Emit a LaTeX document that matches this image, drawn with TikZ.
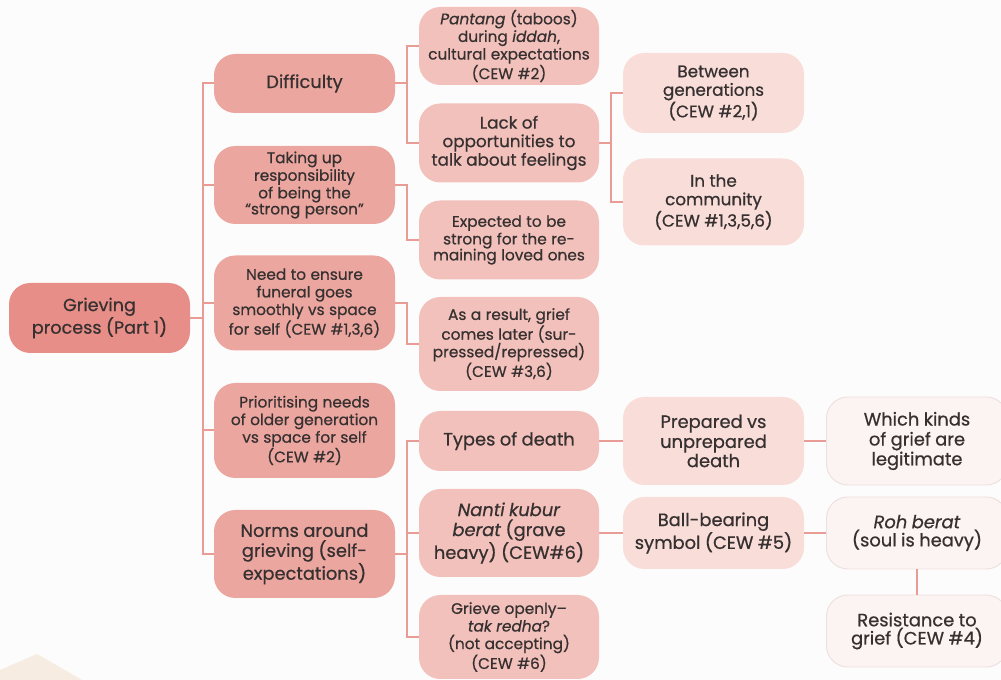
\documentclass[tikz,border=0pt]{standalone}
\usepackage{fontspec}
\setmainfont{Poppins}[FakeBold=0.6]
\usetikzlibrary{backgrounds}

\pgfdeclarelayer{canvas}
\pgfsetlayers{canvas,background,main}

\definecolor{bgc}{HTML}{FDFCFC}
\definecolor{sandc}{HTML}{F6ECE2}
\definecolor{rootc}{HTML}{E88E88}
\definecolor{lonec}{HTML}{EBA69F}
\definecolor{ltwoc}{HTML}{F2C1BB}
\definecolor{lthreec}{HTML}{F8DDD9}
\definecolor{lfourc}{HTML}{FCF4F2}
\definecolor{lfouredge}{HTML}{ECE0DE}
\definecolor{linkc}{HTML}{E99C96}
\definecolor{inkc}{HTML}{363030}

\newcommand{\roottxt}{\fontsize{13.2}{15}\selectfont}
\newcommand{\bigtxt}{\fontsize{13.4}{15}\selectfont}
\newcommand{\midtxt}{\fontsize{12.6}{13.9}\selectfont}
\newcommand{\smalltxt}{\fontsize{11.5}{13.2}\selectfont}

\tikzset{
  pill/.style n args={3}{rounded corners=16pt, inner sep=0pt, align=center,
    text=inkc, minimum width=#1*0.75pt, minimum height=#2*0.75pt,
    text width=(#1-12)*0.75pt, fill=#3},
  paleedge/.style={draw=lfouredge, line width=0.7pt},
  link/.style={draw=linkc, line width=1.5pt},
}

\begin{document}
\begin{tikzpicture}[x=0.75pt, y=-0.75pt]
  % canvas
  \useasboundingbox (0,0) rectangle (1001,680);
  \clip (0,0) rectangle (1001,680);
  \begin{pgfonlayer}{canvas}
    \fill[bgc] (0,0) rectangle (1001,680);
    \fill[sandc] (37,654) -- (0,670) -- (0,681) -- (84,681) -- cycle;
  \end{pgfonlayer}

  % root
  \node[pill={181}{70}{rootc}] (root) at (99.5,318) {\roottxt Grieving\\process (Part 1)};

  % first level
  \node[pill={181}{59}{lonec}] (dif) at (304.5,83.5) {\bigtxt Difficulty};
  \node[pill={181}{78}{lonec}] (take) at (304.5,185) {\smalltxt Taking up\\responsibility\\of being the\\“strong person”};
  \node[pill={181}{95}{lonec}] (fun) at (304.5,303) {\smalltxt Need to ensure\\funeral goes\\smoothly vs space\\for self (CEW \#1,3,6)};
  \node[pill={181}{95}{lonec}] (prio) at (304.5,430.5) {\smalltxt Prioritising needs\\of older generation\\vs space for self\\(CEW \#2)};
  \node[pill={181}{88}{lonec}] (norm) at (304.5,554) {\bigtxt Norms around\\grieving (self-\\expectations)};

  % second level
  \node[pill={180}{78}{ltwoc}] (pant) at (509,46) {\smalltxt \textit{Pantang} (taboos)\\during \textit{iddah},\\cultural expectations\\(CEW \#2)};
  \node[pill={180}{79}{ltwoc}] (lack) at (509,143) {\midtxt Lack of\\opportunities to\\talk about feelings};
  \node[pill={180}{79}{ltwoc}] (strong) at (509,240) {\smalltxt Expected to be\\strong for the re-\\maining loved ones};
  \node[pill={180}{94}{ltwoc}] (later) at (509,344) {\smalltxt As a result, grief\\comes later (sur-\\pressed/repressed)\\(CEW \#3,6)};
  \node[pill={180}{60}{ltwoc}] (types) at (509,441) {\bigtxt Types of death};
  \node[pill={180}{88}{ltwoc}] (nanti) at (509,533) {\bigtxt \textit{Nanti kubur}\\\textit{berat} (grave\\heavy) (CEW\#6)};
  \node[pill={180}{84}{ltwoc}] (open) at (509,637) {\smalltxt Grieve openly–\\\textit{tak redha}?\\(not accepting)\\(CEW \#6)};

  % third level
  \node[pill={181}{80}{lthreec}] (gen) at (713.5,93) {\midtxt Between\\generations\\(CEW \#2,1)};
  \node[pill={181}{87}{lthreec}] (comm) at (713.5,202) {\midtxt In the\\community\\(CEW \#1,3,5,6)};
  \node[pill={181}{88}{lthreec}] (prep) at (713.5,441) {\bigtxt Prepared vs\\unprepared\\death};
  \node[pill={181}{72}{lthreec}] (ball) at (713.5,533) {\bigtxt Ball-bearing\\symbol (CEW \#5)};

  % fourth level
  \node[pill={181}{88}{lfourc}, paleedge] (kinds) at (917,441) {\bigtxt Which kinds\\of grief are\\legitimate};
  \node[pill={181}{72}{lfourc}, paleedge] (roh) at (917,533) {\bigtxt \textit{Roh berat}\\(soul is heavy)};
  \node[pill={181}{72}{lfourc}, paleedge] (resist) at (917,631) {\bigtxt Resistance to\\grief (CEW \#4)};

  % connectors
  \begin{scope}[on background layer]
    \foreach \kid in {dif,take,fun,prio,norm}
      \draw[link] (root.east) -- ++(13,0) |- (\kid.west);
    \foreach \kid in {pant,lack}
      \draw[link] (dif.east) -- ++(12,0) |- (\kid.west);
    \draw[link] (take.east) -- ++(12,0) |- (strong.west);
    \draw[link] (fun.east) -- ++(12,0) |- (later.west);
    \foreach \kid in {types,nanti,open}
      \draw[link] (norm.east) -- ++(12,0) |- (\kid.west);
    \foreach \kid in {gen,comm}
      \draw[link] (lack.east) -- ++(12,0) |- (\kid.west);
    \draw[link] (types) -- (prep);
    \draw[link] (prep) -- (kinds);
    \draw[link] (nanti) -- (ball);
    \draw[link] (ball) -- (roh);
  \end{scope}
  \draw[link] (roh.south) -- (resist.north);
\end{tikzpicture}
\end{document}
